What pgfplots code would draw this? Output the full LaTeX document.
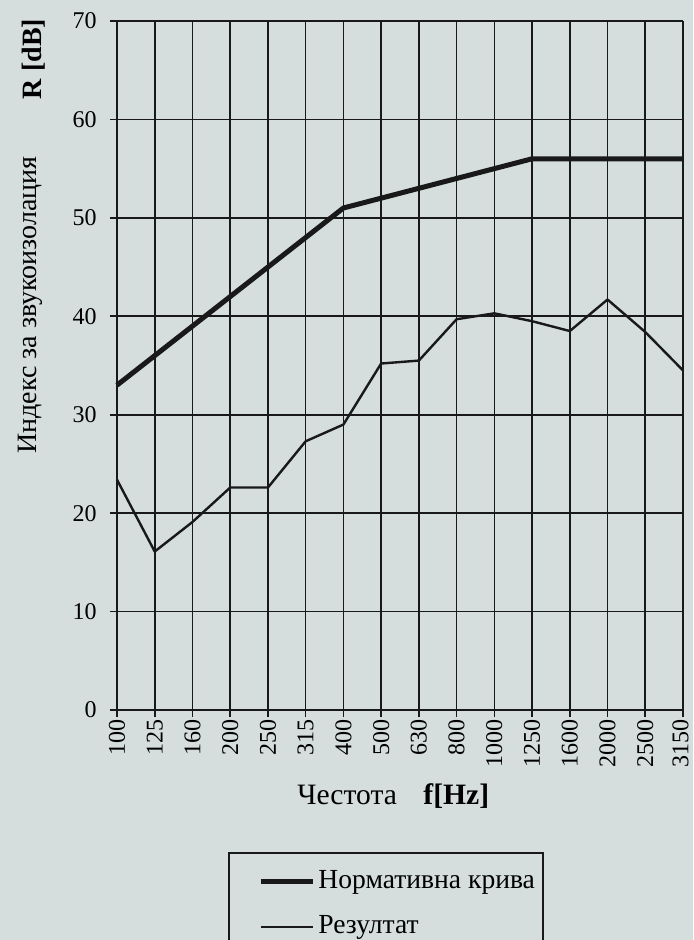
\documentclass[border=0pt]{standalone}
\usepackage{pgfplots}
\pgfplotsset{compat=1.18}
\usepackage{fontspec}
\setmainfont{Liberation Serif}
\usetikzlibrary{backgrounds}
\definecolor{bgc}{RGB}{213,221,221}
\definecolor{ink}{RGB}{25,25,25}
\begin{document}
\begin{tikzpicture}
\begin{axis}[
  name=ax,
  at={(0,0)}, anchor=south west,
  scale only axis,
  width=283pt, height=344.5pt,
  xmin=0, xmax=15, ymin=0, ymax=70,
  xtick={0,...,15},
  xticklabels={100,125,160,200,250,315,400,500,630,800,1000,1250,1600,2000,2500,\raisebox{2.5pt}{3150}},
  ytick={0,10,...,70},
  grid=major,
  grid style={ink, line width=0.8pt},
  axis line style={ink, line width=0.8pt},
  tick style={ink, line width=0.8pt},
  tick align=outside,
  major tick length=3.5pt,
  axis x line*=bottom, axis y line*=left,
  /pgf/number format/assume math mode=true,
  tick label style={font=\fontsize{12}{14}\selectfont},
  xticklabel style={rotate=90, anchor=east, inner sep=1pt},
  yticklabel style={anchor=east, inner sep=0pt, xshift=-6.5pt},
  clip=false,
  legend style={at={(0.2491,-0.2322)}, anchor=north west, draw=none, fill=none,
    font=\fontsize{13.8}{16}\selectfont, inner sep=0pt, row sep=12pt,
    nodes={inner sep=0pt, anchor=base west}},
  legend cell align=left,
  legend image code/.code={\draw[#1] (0pt,0.33em) -- (26pt,0.33em);},
]
\addplot[ink, line width=2.5pt, line join=round] coordinates {
 (0,33) (1,36) (2,39) (3,42) (4,45) (5,48) (6,51) (7,52) (8,53) (9,54) (10,55) (11,56) (12,56) (13,56) (14,56) (15,56)};
\addlegendentry{\hspace{1.5pt}Нормативна крива}
\addplot[ink, line width=1.2pt, line join=round] coordinates {
 (0,23.4) (1,16.1) (2,19.1) (3,22.6) (4,22.6) (5,27.3) (6,29.0) (7,35.2) (8,35.5) (9,39.7) (10,40.3) (11,39.5) (12,38.5) (13,41.7) (14,38.4) (15,34.5)};
\addlegendentry{\hspace{1.5pt}Резултат}
\draw[ink, line width=0.8pt] (axis description cs:0.1979,-0.3338) -- (axis description cs:0.1979,-0.2075) -- (axis description cs:0.7527,-0.2075) -- (axis description cs:0.7527,-0.3338);
\end{axis}
\node[rotate=90, anchor=base, font=\fontsize{14}{16}\selectfont] at ([shift={(-40.5pt,202.5pt)}]ax.south west) {Индекс за звукоизолация};
\node[rotate=90, anchor=base, font=\fontsize{14}{16}\selectfont\bfseries] at ([shift={(-37.75pt,325.5pt)}]ax.south west) {R [dB]};
\node[anchor=base west, inner sep=0pt, font=\fontsize{14.8}{16}\selectfont] at ([shift={(90pt,-47pt)}]ax.south west) {Честота};
\node[anchor=base west, inner sep=0pt, font=\fontsize{14.8}{16}\selectfont\bfseries] at ([shift={(153pt,-47pt)}]ax.south west) {f[Hz]};
\begin{scope}[on background layer]
\fill[bgc] ([shift={(-58.5pt,-115pt)}]ax.south west) rectangle ([shift={(288pt,355pt)}]ax.south west);
\end{scope}
\pgfresetboundingbox
\path ([shift={(-58.5pt,-115pt)}]ax.south west) rectangle ([shift={(288pt,355pt)}]ax.south west);
\end{tikzpicture}
\end{document}
